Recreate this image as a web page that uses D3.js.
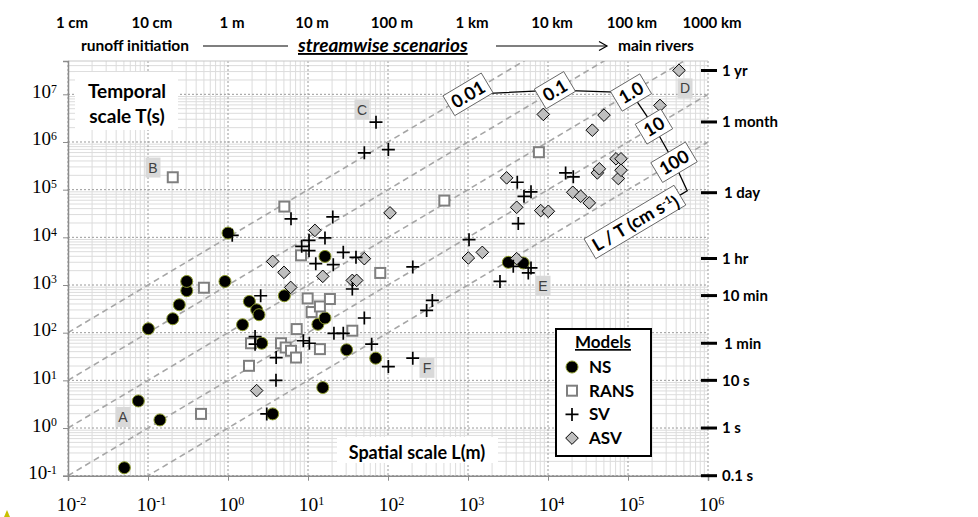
<!DOCTYPE html>
<html>
<head>
<meta charset="utf-8">
<script src="https://cdnjs.cloudflare.com/ajax/libs/d3/7.8.5/d3.min.js"></script>
<style>
    body { margin: 0; background: #fff; }
    svg { display: block; }
</style>
</head>
<body>
<svg id="chart"></svg>
<script>
// points are [L (m), T (s)]
const ns_data = [
    [0.0506, 0.147], [0.0757, 3.7], [0.101, 121], [0.141, 1.48], [0.204, 196],
    [0.246, 385], [0.305, 760], [0.305, 1190], [0.917, 1190], [1.0, 12300],
    [1.52, 147], [1.85, 452], [2.28, 302], [2.44, 238], [2.64, 60], [3.62, 1.98],
    [5.06, 596], [13.3, 150], [15.3, 7.06], [16.3, 203], [16.3, 3980], [30.4, 43.7],
    [70.2, 29.2], [3190, 2990], [4910, 2900]
];
const rans_data = [
    [0.204, 182000], [0.46, 1.98], [0.5, 877], [1.83, 20.2], [1.94, 60], [4.6, 60],
    [5.06, 44200], [5.26, 48.9], [6.13, 41.7], [7.08, 30.1], [7.22, 119], [8.18, 4190],
    [9.9, 523], [11.1, 271], [14.1, 355], [14.1, 45.2], [18.8, 508], [35.8, 110],
    [80, 1790], [506, 59000], [7700, 611000]
];
const sv_data = [
    [1.13, 11000], [2.18, 83], [2.18, 57.5], [2.56, 596], [3.05, 1.98], [3.98, 10],
    [4.0, 30], [6.13, 24400], [8.34, 6470], [8.74, 67.7], [10.3, 8650], [10.3, 5250],
    [10.4, 60], [12.5, 2800], [16.3, 9700], [20.4, 26800], [20.7, 2670],
    [21.1, 97], [27.6, 4840], [27.6, 97], [35.8, 824], [39.8, 3800], [50.6, 203],
    [50.6, 593000], [62.5, 57.5], [70.8, 2.6e6], [101, 695000], [101, 19.5], [204, 2390],
    [204, 29.2], [304, 293], [358, 475], [1030, 8950], [2510, 1190], [3680, 2460],
    [4130, 143000], [4250, 19400], [5010, 72600], [5670, 1790], [6130, 90000], [6130, 2280],
    [16600, 225000], [20700, 186000]
];
const asv_data = [
    [2.28, 6.1], [3.62, 3130], [5.01, 1840], [6.08, 890], [12.2, 14000], [15.3, 1520],
    [35.8, 1250], [40.6, 1250], [50.6, 3570], [106, 32600], [1010, 3690], [1510, 4840],
    [3040, 177000], [4060, 42700], [4060, 3570], [8110, 36400], [8740, 3.79e6], [10100, 35200],
    [20400, 88100], [25600, 72600], [32800, 52800], [35800, 1.77e6], [41400, 225000],
    [43800, 274000], [50100, 3.66e6], [70800, 444000], [75700, 171000], [81800, 444000],
    [81800, 256000], [251000, 5.85e6], [434000, 3.18e7]
];

const model_names = ['NS', 'RANS', 'SV', 'ASV'];

const length_ticks = [1e-2, 1e-1, 1e0, 1e1, 1e2, 1e3, 1e4, 1e5, 1e6];
const length_labels = ['1 cm', '10 cm', '1 m', '10 m', '100 m', '1 km', '10 km', '100 km', '1000 km'];
const time_ticks = [0.1, 1, 10, 60, 600, 3600, 86400, 2.63e6, 3.156e7];
const time_labels = ['0.1 s', '1 s', '10 s', '1 min', '10 min', '1 hr', '1 day', '1 month', '1 yr'];

// L/T in cm/s, label positions along each line
const velocity_values = [0.01, 0.1, 1, 10, 100];
const velocity_labels = ['0.01', '0.1', '1.0', '10', '100'];
const velocity_label_L = [1000, 12200, 109000, 211000, 376000];

const region_names = ['A', 'B', 'C', 'D', 'E', 'F'];
const region_L = [0.0487, 0.1155, 47.3, 516000, 8660, 307];
const region_T = [1.71, 291000, 4.8e6, 1.33e7, 966, 18.3];

const sans = "Lato, 'Open Sans', sans-serif";
const serif = "'Liberation Serif', 'DejaVu Serif', serif";

const margin = {top: 61, left: 68};
const inner_width = 640, inner_height = 414.7;

const svg = d3.select('#chart')
    .attr('width', 978)
    .attr('height', 517);

const chart = svg.append('g')
    .attr('transform', `translate(${margin.left}, ${margin.top})`);

const xscale = d3.scaleLog().domain([1e-2, 1e6]).range([0, inner_width]);
const yscale = d3.scaleLog().domain([1e-1, 5e7]).range([inner_height, 0]);

// grid
const x_major = d3.range(-2, 7).map(e => Math.pow(10, e));
const y_major = d3.range(-1, 8).map(e => Math.pow(10, e));
const minor = (e0, e1, max) => {
    let out = [];
    for (let e = e0; e <= e1; e++)
        for (let k = 2; k <= 9; k++) {
            const v = k * Math.pow(10, e);
            if (v < max) out.push(v);
        }
    return out;
};
const x_minor = minor(-2, 5, 1e6);
const y_minor = minor(-1, 7, 5e7);

const grid = chart.append('g');
grid.selectAll('.xmin').data(x_minor).enter().append('line')
    .attr('x1', d => xscale(d)).attr('x2', d => xscale(d))
    .attr('y1', 0).attr('y2', inner_height)
    .attr('stroke', '#dcdcdc').attr('stroke-width', 1);
grid.selectAll('.ymin').data(y_minor).enter().append('line')
    .attr('y1', d => yscale(d)).attr('y2', d => yscale(d))
    .attr('x1', 0).attr('x2', inner_width)
    .attr('stroke', '#dcdcdc').attr('stroke-width', 1);
grid.selectAll('.xmaj').data(x_major).enter().append('line')
    .attr('x1', d => xscale(d)).attr('x2', d => xscale(d))
    .attr('y1', 0).attr('y2', inner_height)
    .attr('stroke', '#9a9a9a').attr('stroke-width', 1).attr('stroke-dasharray', '2,2');
grid.selectAll('.ymaj').data(y_major).enter().append('line')
    .attr('y1', d => yscale(d)).attr('y2', d => yscale(d))
    .attr('x1', 0).attr('x2', inner_width)
    .attr('stroke', '#9a9a9a').attr('stroke-width', 1).attr('stroke-dasharray', '2,2');
grid.append('line')
    .attr('x1', 0).attr('x2', inner_width).attr('y1', 0).attr('y2', 0)
    .attr('stroke', '#c8c8c8');

// velocity lines
chart.append('clipPath').attr('id', 'plotclip')
    .append('rect').attr('width', inner_width).attr('height', inner_height);

const vline = d3.line().x(d => xscale(d[0])).y(d => yscale(d[1]));
chart.append('g').attr('clip-path', 'url(#plotclip)')
    .selectAll('path').data(velocity_values).enter().append('path')
    .attr('d', v => vline([1e-2, 1e6].map(L => [L, 100 * L / v])))
    .attr('fill', 'none')
    .attr('stroke', '#a6a6a6')
    .attr('stroke-width', 1.6)
    .attr('stroke-dasharray', '6,4');

// axes
const xaxis = d3.axisBottom(xscale).tickValues(x_major).tickSize(5).tickPadding(5).tickFormat('');
const yaxis = d3.axisLeft(yscale).tickValues(y_major).tickSize(5).tickPadding(6).tickFormat('');

const xaxis_group = chart.append('g')
    .attr('transform', `translate(0, ${inner_height})`)
    .call(xaxis);
const yaxis_group = chart.append('g').call(yaxis);
[xaxis_group, yaxis_group].forEach(g => {
    g.select('.domain').attr('stroke', '#8c8c8c').attr('stroke-width', 1.5);
    g.selectAll('.tick line').attr('stroke', '#8c8c8c');
});

const exp_label = (sel, d) => {
    const e = Math.round(Math.log10(d));
    sel.append('tspan').text('10');
    sel.append('tspan').attr('dy', '-0.45em').attr('font-size', '0.62em').text(e);
};
xaxis_group.selectAll('.tick').each(function(d) {
    const t = d3.select(this).append('text')
        .attr('y', 35).attr('x', 3)
        .attr('text-anchor', 'middle')
        .attr('fill', 'black')
        .attr('font-family', serif)
        .attr('font-size', '19.5px');
    exp_label(t, d);
});
yaxis_group.selectAll('.tick').each(function(d) {
    const t = d3.select(this).append('text')
        .attr('x', -11).attr('y', 3)
        .attr('text-anchor', 'end')
        .attr('fill', 'black')
        .attr('font-family', serif)
        .attr('font-size', '19px');
    exp_label(t, d);
});

// top length labels
chart.append('g').selectAll('text').data(length_ticks).enter().append('text')
    .attr('x', d => xscale(d) + 4)
    .attr('y', -33)
    .attr('text-anchor', 'middle')
    .attr('font-family', sans).attr('font-weight', 'bold').attr('font-size', '15px')
    .text((d, i) => length_labels[i]);

// scenario row
const top_row = chart.append('g').attr('font-family', sans).attr('font-weight', 'bold');
top_row.append('text').attr('x', 13).attr('y', -10).attr('font-size', '15.5px').text('runoff initiation');
top_row.append('text').attr('x', 230).attr('y', -9).attr('font-size', '19px')
    .attr('font-style', 'italic').attr('text-decoration', 'underline').text('streamwise scenarios');
top_row.append('text').attr('x', 550).attr('y', -10).attr('font-size', '15.5px').text('main rivers');
top_row.append('line').attr('x1', 135).attr('x2', 220).attr('y1', -15).attr('y2', -15)
    .attr('stroke', 'black').attr('stroke-width', 1.2);
top_row.append('line').attr('x1', 428).attr('x2', 539).attr('y1', -15).attr('y2', -15)
    .attr('stroke', 'black').attr('stroke-width', 1.2);
top_row.append('path').attr('d', 'M531,-19.5 L539,-15 L531,-10.5')
    .attr('fill', 'none').attr('stroke', 'black').attr('stroke-width', 1.2);

// right time axis
const time_group = chart.append('g').attr('transform', `translate(${inner_width}, 0)`);
time_group.selectAll('line').data(time_ticks).enter().append('line')
    .attr('x1', -7).attr('x2', 9)
    .attr('y1', d => yscale(d)).attr('y2', d => yscale(d))
    .attr('stroke', 'black').attr('stroke-width', 3);
time_group.selectAll('text').data(time_ticks).enter().append('text')
    .attr('x', (d, i) => (i === 3 || i === 6) ? 16 : 14)
    .attr('y', d => yscale(d))
    .attr('dy', '0.36em')
    .attr('font-family', sans).attr('font-weight', 'bold').attr('font-size', '15px')
    .text((d, i) => time_labels[i]);

// axis titles
chart.append('rect').attr('x', 7).attr('y', 11).attr('width', 103).attr('height', 58).attr('fill', 'white');
chart.append('text').attr('x', 59).attr('y', 37).attr('text-anchor', 'middle')
    .attr('font-family', sans).attr('font-weight', 'bold').attr('font-size', '19px').text('Temporal');
chart.append('text').attr('x', 59).attr('y', 62).attr('text-anchor', 'middle')
    .attr('font-family', sans).attr('font-weight', 'bold').attr('font-size', '19px').text('scale T(s)');
chart.append('rect').attr('x', 269).attr('y', 376).attr('width', 161).attr('height', 26).attr('fill', 'white');
chart.append('text').attr('x', 349).attr('y', 398).attr('text-anchor', 'middle')
    .attr('font-family', sans).attr('font-weight', 'bold').attr('font-size', '18px').text('Spatial scale L(m)');

// markers
const plus_path = (x, y, s) => `M${x - s},${y}H${x + s}M${x},${y - s}V${y + s}`;
const diamond_path = (x, y, s) => `M${x},${y - s}L${x + s},${y}L${x},${y + s}L${x - s},${y}Z`;

const draw_ns = (g, data, xf, yf) => g.selectAll('.ns').data(data).enter().append('circle')
    .attr('cx', xf).attr('cy', yf).attr('r', 6)
    .attr('fill', 'black').attr('stroke', '#8b9a2a').attr('stroke-width', 1);
const draw_rans = (g, data, xf, yf) => g.selectAll('.rans').data(data).enter().append('rect')
    .attr('x', d => xf(d) - 5).attr('y', d => yf(d) - 5).attr('width', 10).attr('height', 10)
    .attr('fill', 'white').attr('stroke', '#7f7f7f').attr('stroke-width', 2);
const draw_asv = (g, data, xf, yf) => g.selectAll('.asv').data(data).enter().append('path')
    .attr('d', d => diamond_path(xf(d), yf(d), 6.3))
    .attr('fill', '#bfbfbf').attr('stroke', 'black').attr('stroke-width', 1);
const draw_sv = (g, data, xf, yf) => g.selectAll('.sv').data(data).enter().append('path')
    .attr('d', d => plus_path(xf(d), yf(d), 6.5))
    .attr('fill', 'none').attr('stroke', 'black').attr('stroke-width', 1.7);

const px = d => xscale(d[0]), py = d => yscale(d[1]);
draw_ns(chart.append('g'), ns_data, px, py);
draw_rans(chart.append('g'), rans_data, px, py);
draw_asv(chart.append('g'), asv_data, px, py);
draw_sv(chart.append('g'), sv_data, px, py);

// region letters
const regions = chart.append('g').selectAll('g').data(region_names).enter().append('g')
    .attr('transform', (d, i) => `translate(${xscale(region_L[i])}, ${yscale(region_T[i])})`);
regions.append('rect').attr('x', -7.5).attr('y', -10).attr('width', 15).attr('height', 20).attr('fill', '#d9d9d9');
regions.append('text').attr('text-anchor', 'middle').attr('y', 5)
    .attr('font-family', "'Liberation Sans', Arial, sans-serif").attr('font-size', '14px')
    .attr('fill', '#404040').text(d => d);

// velocity labels
const angle = Math.atan2(yscale(10) - yscale(1), xscale(10) - xscale(1)) * 180 / Math.PI;
const vpos = velocity_values.map((v, i) => [velocity_label_L[i], 100 * velocity_label_L[i] / v]);
const leader = vpos.concat([[5.5e5, 9.5e4], [4.47e5, 7.7e4]]);
chart.append('path')
    .attr('d', vline(leader))
    .attr('fill', 'none').attr('stroke', 'black').attr('stroke-width', 1.3);

const add_box_label = (pos, build) => {
    const g = chart.append('g')
        .attr('transform', `translate(${xscale(pos[0])}, ${yscale(pos[1])}) rotate(${angle})`);
    const rect = g.append('rect');
    const t = g.append('text').attr('text-anchor', 'middle').attr('y', 6.5)
        .attr('font-family', sans).attr('font-weight', 'bold').attr('font-size', '18px');
    build(t);
    const w = t.node().getComputedTextLength() + 9;
    rect.attr('x', -w / 2).attr('y', -11.5).attr('width', w).attr('height', 23)
        .attr('fill', 'white').attr('stroke', '#555').attr('stroke-width', 0.8);
};
vpos.forEach((p, i) => add_box_label(p, t => t.text(velocity_labels[i])));
add_box_label([1.22e5, 2.1e4], t => {
    t.append('tspan').text('L / T (cm s');
    t.append('tspan').attr('dy', '-0.45em').attr('font-size', '0.6em').text('-1');
    t.append('tspan').attr('dy', '0.45em').text(')');
});

// legend
const legend = svg.append('g').attr('transform', 'translate(556, 329)');
legend.append('rect').attr('width', 95).attr('height', 127)
    .attr('fill', 'white').attr('stroke', 'black').attr('stroke-width', 2);
legend.append('text').attr('x', 47).attr('y', 19).attr('text-anchor', 'middle')
    .attr('font-family', sans).attr('font-weight', 'bold').attr('font-size', '17px')
    .attr('text-decoration', 'underline').text('Models');
const item_y = i => 38 + i * 23.7;
const one = [[0, 0]];
draw_ns(legend.append('g'), one, () => 16, () => item_y(0));
draw_rans(legend.append('g'), one, () => 16, () => item_y(1));
draw_sv(legend.append('g'), one, () => 16, () => item_y(2));
draw_asv(legend.append('g'), one, () => 16, () => item_y(3));
legend.selectAll('.item').data(model_names).enter().append('text')
    .attr('x', 33).attr('y', (d, i) => item_y(i) + 6)
    .attr('font-family', sans).attr('font-weight', 'bold').attr('font-size', '17px')
    .text(d => d);

// small corner mark
svg.append('path').attr('d', 'M4,517 L7,510 L10,517 Z').attr('fill', '#c8c000');
</script>
</body>
</html>
